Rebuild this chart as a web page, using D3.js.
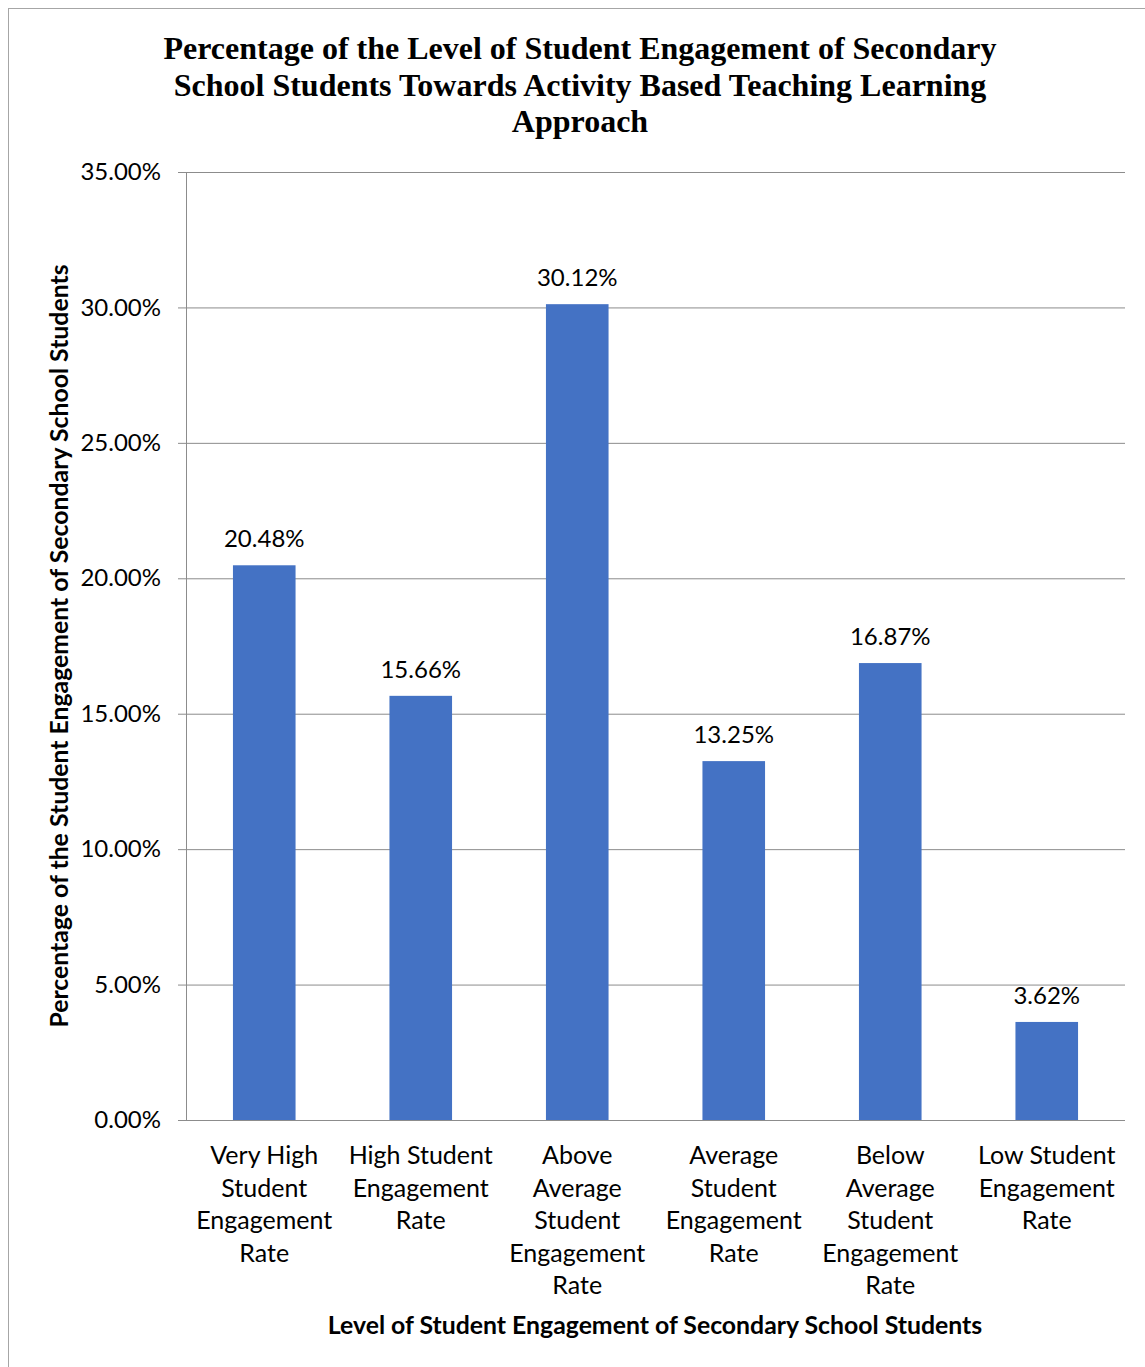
<!DOCTYPE html>
<html>
<head>
<meta charset="utf-8">
<script src="https://cdn.jsdelivr.net/npm/d3@7"></script>
<style>
  body { margin: 0; background: #fff; }
  svg { display: block; }
</style>
</head>
<body>
<svg id="chart" width="1145" height="1367"></svg>
<script>
// Engagement levels and their share of students
const categories = [
  ["Very High", "Student", "Engagement", "Rate"],
  ["High Student", "Engagement", "Rate"],
  ["Above", "Average", "Student", "Engagement", "Rate"],
  ["Average", "Student", "Engagement", "Rate"],
  ["Below", "Average", "Student", "Engagement", "Rate"],
  ["Low Student", "Engagement", "Rate"]
];
const values = [20.48, 15.66, 30.12, 13.25, 16.87, 3.62];
const yTicks = [0, 5, 10, 15, 20, 25, 30, 35];
const titleLines = [
  "Percentage of the Level of Student Engagement of Secondary",
  "School Students Towards Activity Based Teaching Learning",
  "Approach"
];
const yTitle = "Percentage of the Student Engagement of Secondary School Students";
const xTitle = "Level of Student Engagement of Secondary School Students";

const svg = d3.select("#chart");
const sans = "Lato, 'Open Sans', sans-serif";
const margin = { left: 186, right: 1125, top: 172, bottom: 1120 };

// Outer chart frame (runs past the right and bottom edges of the page)
svg.append("rect")
  .attr("x", 8.5).attr("y", 8.5)
  .attr("width", 1150).attr("height", 1380)
  .attr("fill", "#fff").attr("stroke", "#a6a6a6").attr("stroke-width", 1);

const x = d3.scaleBand()
  .domain(d3.range(categories.length))
  .range([margin.left, margin.right])
  .paddingInner(0.6).paddingOuter(0.3);

const y = d3.scaleLinear().domain([0, 35]).range([margin.bottom, margin.top]);

// Horizontal gridlines with left tick marks
const yAxis = d3.axisLeft(y)
  .tickValues(yTicks)
  .tickSize(-(margin.right - margin.left))
  .tickSizeOuter(0)
  .tickPadding(25)
  .tickFormat(d => d.toFixed(2) + "%");

const gy = svg.append("g")
  .attr("transform", `translate(${margin.left},0)`)
  .call(yAxis);
gy.select(".domain").remove();
gy.selectAll(".tick line")
  .attr("x1", -8)
  .attr("stroke", "#8c8c8c").attr("stroke-width", 1);
gy.selectAll(".tick text")
  .attr("font-family", sans).attr("font-size", 24).attr("fill", "#000");

// Left vertical axis line
svg.append("line")
  .attr("x1", margin.left + 0.5).attr("x2", margin.left + 0.5)
  .attr("y1", margin.top).attr("y2", margin.bottom)
  .attr("stroke", "#8c8c8c");

// Bars
svg.append("g").selectAll("rect")
  .data(values)
  .join("rect")
  .attr("x", (d, i) => x(i))
  .attr("width", x.bandwidth())
  .attr("y", d => y(d))
  .attr("height", d => y(0) - y(d))
  .attr("fill", "#4472c4");

// Value labels above bars
svg.append("g").selectAll("text")
  .data(values)
  .join("text")
  .attr("x", (d, i) => x(i) + x.bandwidth() / 2)
  .attr("y", d => y(d) - 18)
  .attr("text-anchor", "middle")
  .attr("font-family", sans).attr("font-size", 24)
  .text(d => d.toFixed(2) + "%");

// Category labels
const catG = svg.append("g");
categories.forEach((lines, i) => {
  const t = catG.append("text")
    .attr("x", x(i) + x.bandwidth() / 2)
    .attr("y", 1164)
    .attr("text-anchor", "middle")
    .attr("font-family", sans).attr("font-size", 25);
  lines.forEach((line, j) => {
    t.append("tspan")
      .attr("x", x(i) + x.bandwidth() / 2)
      .attr("dy", j === 0 ? 0 : 32.5)
      .text(line);
  });
});

// Chart title
const title = svg.append("text")
  .attr("x", 580).attr("y", 59)
  .attr("text-anchor", "middle")
  .attr("font-family", "'Liberation Serif', 'Times New Roman', serif")
  .attr("font-weight", "bold").attr("font-size", 32);
titleLines.forEach((line, j) => {
  title.append("tspan").attr("x", 580).attr("dy", j === 0 ? 0 : 36.5).text(line);
});

// Axis titles
svg.append("text")
  .attr("transform", `translate(68,646) rotate(-90)`)
  .attr("text-anchor", "middle")
  .attr("font-family", sans).attr("font-weight", "bold").attr("font-size", 24.8)
  .text(yTitle);

svg.append("text")
  .attr("x", 655).attr("y", 1334)
  .attr("text-anchor", "middle")
  .attr("font-family", sans).attr("font-weight", "bold").attr("font-size", 24.8)
  .text(xTitle);
</script>
</body>
</html>
